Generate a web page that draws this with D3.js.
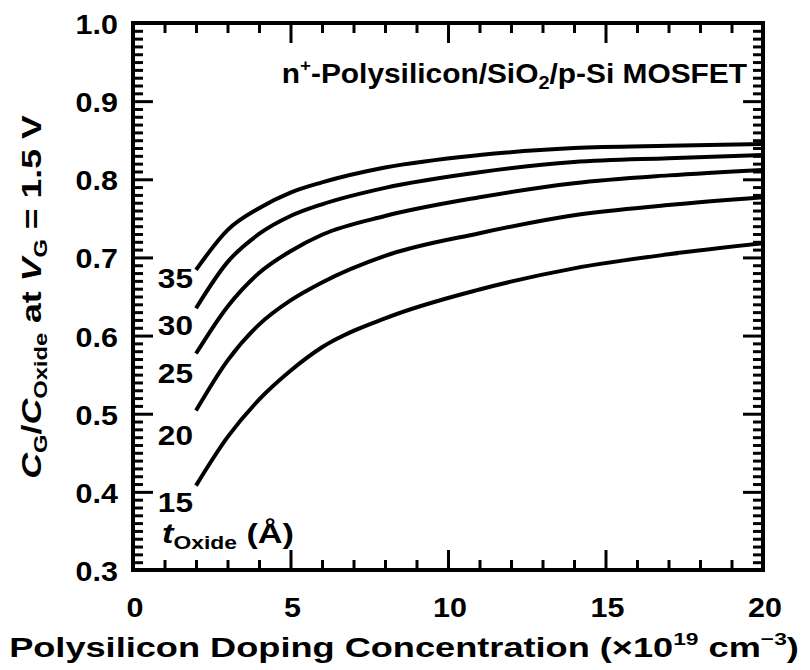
<!DOCTYPE html>
<html>
<head>
<meta charset="utf-8">
<script src="https://cdn.jsdelivr.net/npm/d3@7"></script>
<style>
  html, body { margin: 0; padding: 0; background: #fff; }
  svg text { font-family: "Liberation Sans", Arial, Helvetica, sans-serif; font-weight: bold; fill: #000; }
</style>
</head>
<body>
<svg id="chart" width="810" height="670"></svg>
<script>
// Polysilicon doping concentration (x10^19 cm^-3)
const doping = [2, 3, 4, 5, 6, 8, 11, 14, 17, 20];

// Oxide thickness of each curve (Å)
const oxideThickness = [35, 30, 25, 20, 15];

// C_G / C_Oxide at V_G = 1.5 V, one array per oxide thickness
const ratio35 = [0.684, 0.735, 0.763, 0.783, 0.796, 0.815, 0.831, 0.840, 0.843, 0.845];
const ratio30 = [0.635, 0.694, 0.730, 0.753, 0.768, 0.789, 0.809, 0.822, 0.827, 0.831];
const ratio25 = [0.577, 0.637, 0.680, 0.708, 0.729, 0.753, 0.777, 0.795, 0.805, 0.812];
const ratio20 = [0.504, 0.568, 0.614, 0.645, 0.668, 0.702, 0.731, 0.754, 0.767, 0.777];
const ratio15 = [0.408, 0.470, 0.518, 0.555, 0.585, 0.622, 0.659, 0.686, 0.704, 0.718];

// Axis ticks
const xMajorTicks = [0, 5, 10, 15, 20];
const yMajorTicks = [0.3, 0.4, 0.5, 0.6, 0.7, 0.8, 0.9, 1.0];

const seriesValues = [ratio35, ratio30, ratio25, ratio20, ratio15];

const svg = d3.select("#chart");
const x = d3.scaleLinear().domain([0, 20]).range([133, 763]);
const y = d3.scaleLinear().domain([0.3, 1.0]).range([570, 23]);

const xMinor = d3.range(0, 21, 1).filter(v => v % 5 !== 0);
const yMinor = d3.range(30, 101, 1).filter(v => v % 10 !== 0).map(v => v / 100);

function styleTicks(g) {
  g.select(".domain").remove();
  g.selectAll(".tick line").attr("stroke", "#000").attr("stroke-width", 3);
}

// Inward ticks on all four sides
const [x0, x1] = x.range();
const [y0, y1] = y.range();
const sides = [
  [d3.axisBottom, x, xMinor, xMajorTicks, `translate(0,${y0})`],
  [d3.axisTop, x, xMinor, xMajorTicks, `translate(0,${y1})`],
  [d3.axisLeft, y, yMinor, yMajorTicks, `translate(${x0},0)`],
  [d3.axisRight, y, yMinor, yMajorTicks, `translate(${x1},0)`]
];
sides.forEach(([axisFn, scale, minor, major, tr]) => {
  svg.append("g").attr("transform", tr)
    .call(axisFn(scale).tickValues(minor).tickSize(-10).tickFormat("")).call(styleTicks);
  svg.append("g").attr("transform", tr)
    .call(axisFn(scale).tickValues(major).tickSize(-20).tickFormat("")).call(styleTicks);
});

// Frame
svg.append("rect")
  .attr("x", x0).attr("y", y1)
  .attr("width", x1 - x0).attr("height", y0 - y1)
  .attr("fill", "none").attr("stroke", "#000").attr("stroke-width", 4);

// Text placed at (px, py), widened horizontally by sx
function wideText(parent, px, py, sx, anchor, size) {
  return parent.append("text")
    .attr("transform", `translate(${px},${py}) scale(${sx},1)`)
    .attr("text-anchor", anchor).attr("font-size", size);
}

// Tick labels
const yLab = svg.append("g");
yMajorTicks.forEach(d => wideText(yLab, 118, y(d) + 11, 1.13, "end", 27).text(d.toFixed(1)));
const xLab = svg.append("g");
xMajorTicks.forEach(d => wideText(xLab, x(d) + 2, 617, 1.13, "middle", 27).text(d));

// Curves
const line = d3.line()
  .x((d, i) => x(doping[i]))
  .y(d => y(d))
  .curve(d3.curveMonotoneX);
svg.append("g").selectAll("path").data(seriesValues).join("path")
  .attr("d", d => line(d))
  .attr("fill", "none").attr("stroke", "#000")
  .attr("stroke-width", 4).attr("stroke-linecap", "butt");

// Curve labels, placed just below-left of each curve's start
const labelBaseline = [0.661, 0.601, 0.539, 0.460, 0.374];
const cLab = svg.append("g");
oxideThickness.forEach((d, i) =>
  wideText(cLab, 193, y(labelBaseline[i]), 1.17, "end", 27).text(d));

// t_Oxide (Å)
const tOx = wideText(svg, 162, 543, 1.27, "start", 27);
tOx.append("tspan").attr("font-style", "italic").text("t");
tOx.append("tspan").attr("font-size", 18).attr("dy", 6).text("Oxide");
tOx.append("tspan").attr("dy", -6).text(" (Å)");

// Structure label
const head = wideText(svg, 747, 83, 1.107, "end", 27);
head.append("tspan").text("n");
head.append("tspan").attr("font-size", 17).attr("dy", -12).text("+");
head.append("tspan").attr("dy", 12).text("-Polysilicon/SiO");
head.append("tspan").attr("font-size", 18).attr("dy", 6).text("2");
head.append("tspan").attr("dy", -6).text("/p-Si MOSFET");

// X axis title
const xt = wideText(svg, 404, 657, 1.34, "middle", 27);
xt.append("tspan").text("Polysilicon Doping Concentration (×10");
xt.append("tspan").attr("font-size", 17).attr("dy", -12).text("19");
xt.append("tspan").attr("dy", 12).text(" cm");
xt.append("tspan").attr("font-size", 17).attr("dy", -12).text("−3");
xt.append("tspan").attr("dy", 12).text(")");

// Y axis title
const yt = svg.append("text")
  .attr("transform", "translate(41,297) rotate(-90) scale(1.32,1)")
  .attr("text-anchor", "middle").attr("font-size", 27);
yt.append("tspan").attr("font-style", "italic").text("C");
yt.append("tspan").attr("font-size", 18).attr("dy", 6).text("G");
yt.append("tspan").attr("dy", -6).text("/");
yt.append("tspan").attr("font-style", "italic").text("C");
yt.append("tspan").attr("font-size", 18).attr("dy", 6).text("Oxide");
yt.append("tspan").attr("dy", -6).text(" at ");
yt.append("tspan").attr("font-style", "italic").text("V");
yt.append("tspan").attr("font-size", 18).attr("dy", 6).text("G");
yt.append("tspan").attr("dy", -6).text(" = 1.5 V");
</script>
</body>
</html>
